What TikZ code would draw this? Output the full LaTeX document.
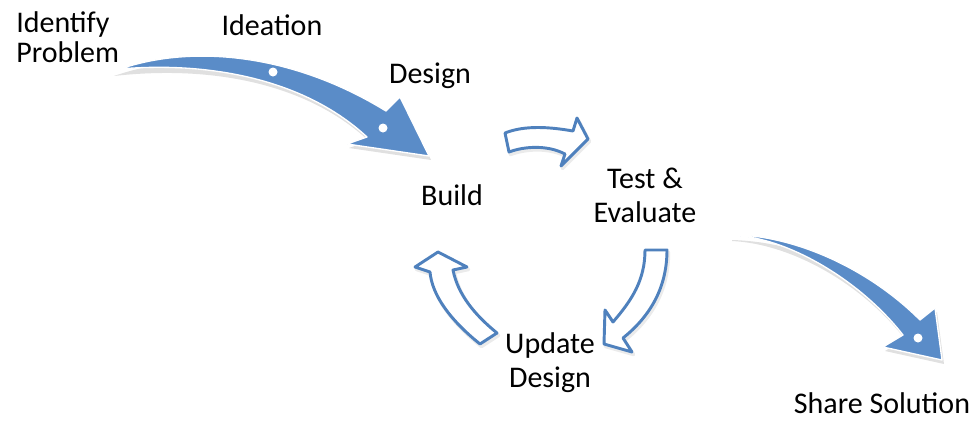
\documentclass[tikz,border=0pt]{standalone}
\usepackage{fontspec}
\setmainfont{Carlito}
\definecolor{arrfill}{RGB}{90,140,200}
\definecolor{outc}{RGB}{79,129,189}
\begin{document}
\begin{tikzpicture}[x=0.75pt,y=-0.75pt,
  lbl/.style={font=\fontsize{22.5}{25}\selectfont, inner sep=0pt, text=black},
  bigarrow/.style={fill=arrfill, draw=white, line width=1pt, line join=round},
  bigshadow/.style={fill=black, opacity=0.12},
  outarrow/.style={fill=white, draw=outc, line width=2.2pt, line join=round},
  outshadow/.style={draw=black, opacity=0.08, line width=2.6pt, line join=round},
  hole/.style={fill=white}]
\useasboundingbox (0,0) rectangle (976,425);

% ---- big arrow: Identify Problem -> Build
\begin{scope}[shift={(2,4)}]
\path[bigshadow] (112,72) .. controls (190,45) and (290,52) .. (386,111) -- (400,97) -- (429,156) -- (347,144) -- (367,137) .. controls (300,75) and (200,62) .. (112,72) -- cycle;
\end{scope}
\path[bigarrow] (120,69) .. controls (190,45) and (290,52) .. (386,111) -- (400,97) -- (429,156) -- (347,144) -- (367,137) .. controls (300,75) and (200,62) .. (120,69) -- cycle;
\fill[hole] (273,72) circle (4.5);
\fill[hole] (383,128) circle (4.5);

% ---- big arrow: Test & Evaluate -> Share Solution
\begin{scope}[shift={(2,4)}]
\path[bigshadow] (730,236) .. controls (800,238) and (870,270) .. (920,320) -- (935,308) -- (942,360) -- (883,347) -- (903,335) .. controls (860,280) and (790,240) .. (730,237) -- cycle;
\end{scope}
\path[bigarrow] (740,235) .. controls (800,238) and (870,270) .. (920,320) -- (935,308) -- (942,360) -- (883,347) -- (903,335) .. controls (860,280) and (790,240) .. (740,236) -- cycle;
\fill[hole] (918,338) circle (4.5);

% ---- outlined arrow: Build -> Test
\begin{scope}[shift={(1.5,2.5)}]
\path[outshadow] (505,133) .. controls (525,125) and (550,127) .. (573,131) -- (577,118) -- (588,139) -- (561,166) -- (565,154) .. controls (548,145) and (525,146) .. (509,152) -- cycle;
\end{scope}
\path[outarrow] (505,133) .. controls (525,125) and (550,127) .. (573,131) -- (577,118) -- (588,139) -- (561,166) -- (565,154) .. controls (548,145) and (525,146) .. (509,152) -- cycle;

% ---- outlined arrow: Test -> Update
\begin{scope}[shift={(1.5,2.5)}]
\path[outshadow] (645,250) -- (667,250) .. controls (667,290) and (648,318) .. (623,338) -- (632,352) -- (604,344) -- (605,310) -- (613,322) .. controls (632,300) and (645,280) .. (645,250) -- cycle;
\end{scope}
\path[outarrow] (645,250) -- (667,250) .. controls (667,290) and (648,318) .. (623,338) -- (632,352) -- (604,344) -- (605,310) -- (613,322) .. controls (632,300) and (645,280) .. (645,250) -- cycle;

% ---- outlined arrow: Update -> Build
\begin{scope}[shift={(1.5,2.5)}]
\path[outshadow] (480,344) .. controls (450,320) and (432,295) .. (430,272) -- (415,267) -- (438,252) -- (467,267) -- (453,270) .. controls (458,295) and (475,315) .. (497,333) -- cycle;
\end{scope}
\path[outarrow] (480,344) .. controls (450,320) and (432,295) .. (430,272) -- (415,267) -- (438,252) -- (467,267) -- (453,270) .. controls (458,295) and (475,315) .. (497,333) -- cycle;

% ---- labels
\node[lbl, anchor=base west, align=left] (identify) at (16,62) {Identify\\[-2.5pt]Problem};
\node[lbl, anchor=base] (ideation) at (272,35) {Ideation};
\node[lbl, anchor=base] (design) at (430,83) {Design};
\node[lbl, anchor=base] (build) at (452,205) {Build};
\node[lbl, anchor=base, align=center] (test) at (645,222) {Test \&\\Evaluate};
\node[lbl, anchor=base, align=center] (update) at (550,387) {Update\\Design};
\node[lbl, anchor=base] (share) at (882,413) {Share Solution};
\end{tikzpicture}
\end{document}
